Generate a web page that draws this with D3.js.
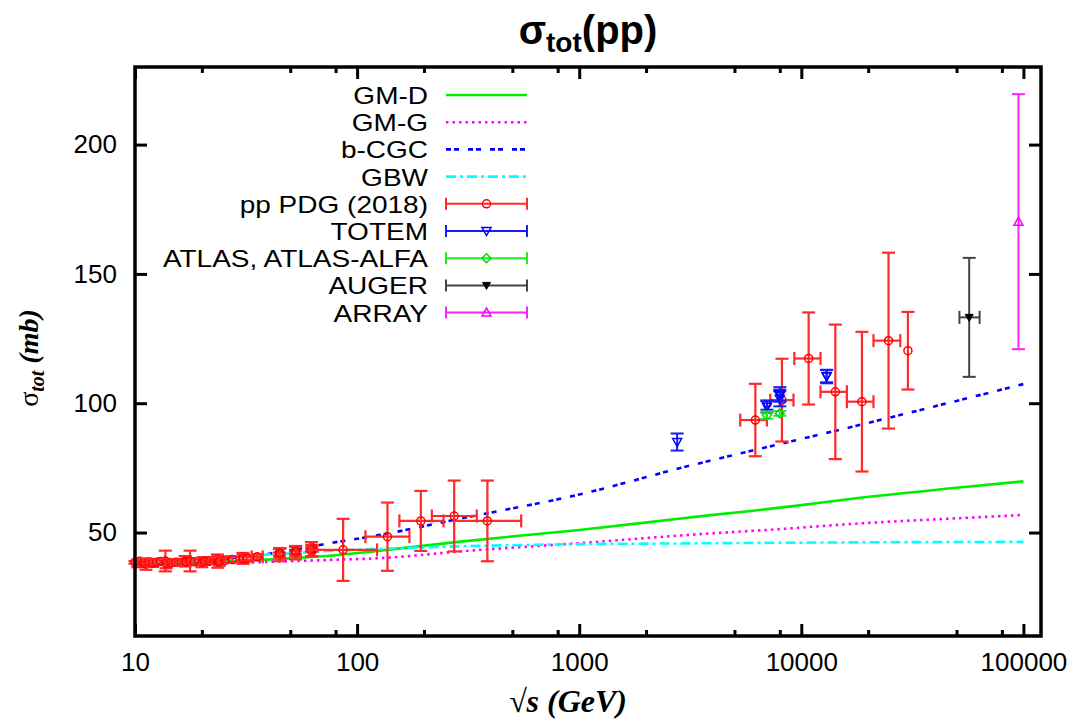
<!DOCTYPE html>
<html><head><meta charset="utf-8">
<script src="https://cdn.jsdelivr.net/npm/d3@7"></script>
<style>body{margin:0;background:#fff}svg{display:block}</style>
</head><body>
<svg id="c" width="1080" height="722"></svg>
<script>
// ---------- data ----------
const xTickMajor = [10, 100, 1000, 10000, 100000];
const yTicks = [50, 100, 150, 200];

// model curves (sqrt(s) in GeV, sigma in mb)
const gmdS   = [10, 20, 30, 50, 75, 127, 300, 1000, 3000, 10000, 16600, 50000, 100000];
const gmdV   = [38.3, 38.5, 39.0, 40.0, 41.0, 43.0, 46.6, 51.0, 55.6, 60.6, 63.0, 67.3, 69.8];
const gmgS   = [10, 20, 27, 75, 127, 300, 1000, 3000, 10000, 16600, 50000, 100000];
const gmgV   = [37.5, 37.8, 38.2, 39.4, 40.1, 42.8, 45.9, 49.0, 51.9, 53.3, 55.5, 56.8];
const bcgcS  = [20, 42, 75.5, 127, 300, 1000, 3000, 10000, 16600, 50000, 100000];
const bcgcV  = [39.0, 42.0, 45.9, 49.1, 55.6, 64.7, 75.4, 86.2, 90.7, 100.9, 107.4];
const gbwS   = [10, 20, 30, 50, 75, 127, 300, 1000, 3000, 10000, 100000];
const gbwV   = [38.0, 39.5, 40.8, 42.0, 42.9, 43.7, 44.7, 45.5, 45.8, 46.1, 46.4];

// pp PDG (2018)
const pdgS    = [10.0, 10.3, 10.5, 10.9, 11.2, 11.5, 12.0, 12.5, 13.0, 13.7, 13.8, 14.5, 15.3, 16.2, 16.8, 17.0, 17.7, 18.5, 19.4, 20.0, 20.5, 21.7, 22.8, 23.5, 23.5, 23.5, 23.6, 24.0, 25.5, 27.4, 30.6, 30.6, 30.7, 32.0, 35.5,
                 44.7, 44.7, 44.7, 45.0, 52.8, 52.8, 52.8, 53.0, 62.5, 62.5, 62.5, 62.7, 62.3,
                 86.5, 137, 193.6, 273.6, 386, 6210, 8180, 10790, 14230, 18750, 24700, 30200];
const pdgV    = [38.5, 38.1, 38.9, 38.3, 37.8, 38.6, 38.2, 38.5, 38.8, 39.0, 38.0, 38.2, 38.5, 38.4, 38.9, 38.6, 39.0, 38.7, 38.9, 38.4, 39.0, 38.9, 39.2, 38.9, 39.6, 39.9, 38.6, 38.7, 39.3, 39.6, 40.1, 40.6, 39.8, 40.0, 40.6,
                 41.7, 42.3, 41.3, 42.0, 42.4, 43.0, 42.1, 42.8, 43.2, 43.9, 42.6, 44.2, 43.5,
                 43.3, 48.4, 54.5, 56.4, 54.5, 93.5, 101.2, 117.3, 104.4, 100.6, 124.2, 120.3];
const pdgErr  = [0.5, 1.5, 0.8, 1.2, 2.2, 0.6, 1.5, 1.0, 0.7, 4.0, 1.8, 1.0, 0.8, 1.0, 2.0, 0.6, 4.0, 1.0, 0.8, 1.8, 1.5, 0.5, 0.9, 0.7, 0.4, 1.6, 2.2, 1.5, 0.8, 1.2, 0.6, 1.5, 1.9, 0.8, 1.0,
                 0.6, 1.5, 2.4, 2.0, 0.6, 1.5, 2.5, 2.0, 0.6, 1.2, 1.7, 1.0, 2.8,
                 12.0, 13.2, 11.6, 13.7, 15.6, 14.0, 16.0, 17.8, 26.0, 27.0, 34.0, 15.0];
const pdgSLo  = [null, null, null, null, null, null, null, null, null, null, null, null, null, null, null, null, null, null, null, null, null, null, null, null, null, null, null, null, null, null, null, null, null, null, 33.5,
                 null, null, null, null, null, null, null, null, null, null, null, null, null,
                 61, 109, 155, 217, 273, 5310, 7250, 9300, 12200, 16040, 21130, 30200];
const pdgSHi  = [null, null, null, null, null, null, null, null, null, null, null, null, null, null, null, null, null, null, null, null, null, null, null, null, null, null, null, null, null, null, null, null, null, null, 37.6,
                 null, null, null, null, null, null, null, null, null, null, null, null, null,
                 123, 172, 245, 346, 548, 7000, 9220, 12200, 16040, 21130, 27900, 30200];

// TOTEM
const totemS   = [2760, 7000, 7000, 8000, 8000, 8000, 13000, 13000];
const totemV   = [85.0, 99.3, 98.6, 101.7, 102.9, 103.5, 110.5, 110.3];
const totemErr = [3.3, 1.8, 2.2, 2.9, 2.3, 2.7, 2.4, 2.6];
// ATLAS, ATLAS-ALFA
const atlasS   = [7000, 8000];
const atlasV   = [95.35, 96.07];
const atlasErr = [1.36, 0.92];
// AUGER
const augerS   = [57000];
const augerV   = [133.2];
const augerErr = [23.0];
const augerSLo = [51500];
const augerSHi = [63500];
// ARRAY
const arrayS   = [95000];
const arrayV   = [170.2];
const arrayErr = [49.3];

const legendLabels = ["GM-D", "GM-G", "b-CGC", "GBW", "pp PDG (2018)", "TOTEM", "ATLAS, ATLAS-ALFA", "AUGER", "ARRAY"];

// ---------- drawing ----------
const svg = d3.select("#c");
const L = 135, R = 1041, T = 67, B = 636;
const x = d3.scaleLog().domain([10, 1.2e5]).range([L, R]);
const y = d3.scaleLinear().domain([10, 230]).range([B, T]);

const minorX = [];
xTickMajor.forEach(d => [2, 5, 8].forEach(m => { if (d * m <= 1.2e5) minorX.push(d * m); }));

svg.append("clipPath").attr("id", "pc").append("rect")
  .attr("x", L).attr("y", T).attr("width", R - L).attr("height", B - T);

// curves
const curves = [
  {s: gmdS, v: gmdV, color: "#00ee00", dash: null, w: 2.6},
  {s: gmgS, v: gmgV, color: "#ff00ff", dash: "2.5,4", w: 2.6},
  {s: bcgcS, v: bcgcV, color: "#0000ff", dash: "5,3,5,9", w: 2.6},
  {s: gbwS, v: gbwV, color: "#00ffff", dash: "10,4,3,4", w: 2.6}
];
const line = d3.line().x(d => x(d[0])).y(d => y(d[1])).curve(d3.curveMonotoneX);
const gCurves = svg.append("g").attr("clip-path", "url(#pc)");
curves.forEach(c => {
  gCurves.append("path").attr("d", line(c.s.map((s, i) => [s, c.v[i]])))
    .attr("fill", "none").attr("stroke", c.color).attr("stroke-width", c.w)
    .attr("stroke-dasharray", c.dash);
});

// markers
function marker(g, type, cx, cy, color) {
  if (type === "circle") {
    g.append("circle").attr("cx", cx).attr("cy", cy).attr("r", 4).attr("fill", "none").attr("stroke", color).attr("stroke-width", 1.5);
  } else if (type === "tdown") {
    g.append("path").attr("d", `M${cx-4.5},${cy-3.5}L${cx+4.5},${cy-3.5}L${cx},${cy+4.5}Z`).attr("fill", "none").attr("stroke", color).attr("stroke-width", 1.5);
  } else if (type === "tdownf") {
    g.append("path").attr("d", `M${cx-4},${cy-3}L${cx+4},${cy-3}L${cx},${cy+4}Z`).attr("fill", color).attr("stroke", color).attr("stroke-width", 1);
  } else if (type === "tup") {
    g.append("path").attr("d", `M${cx-4.5},${cy+3.5}L${cx+4.5},${cy+3.5}L${cx},${cy-4.5}Z`).attr("fill", "none").attr("stroke", color).attr("stroke-width", 1.5);
  } else if (type === "diamond") {
    g.append("path").attr("d", `M${cx},${cy-4.5}L${cx+4.5},${cy}L${cx},${cy+4.5}L${cx-4.5},${cy}Z`).attr("fill", "none").attr("stroke", color).attr("stroke-width", 1.5);
  }
}
const cap = 6.5;
function errPoint(g, px, py, yTop, yBot, xL, xR, color, barColor, type, bw) {
  const ln = (x1, y1, x2, y2) => g.append("line").attr("x1", x1).attr("y1", y1).attr("x2", x2).attr("y2", y2)
    .attr("stroke", barColor).attr("stroke-width", bw || 2);
  ln(px, yTop, px, yBot);
  ln(px - cap, yTop, px + cap, yTop);
  ln(px - cap, yBot, px + cap, yBot);
  if (xL != null && xR != null && xR - xL > 1) {
    ln(xL, py, xR, py);
    ln(xL, py - cap, xL, py + cap);
    ln(xR, py - cap, xR, py + cap);
  }
  marker(g, type, px, py, color);
}
const gData = svg.append("g");
pdgS.forEach((s, i) => errPoint(gData, x(s), y(pdgV[i]), y(pdgV[i] + pdgErr[i]), y(pdgV[i] - pdgErr[i]),
  pdgSLo[i] != null ? x(pdgSLo[i]) : null, pdgSHi[i] != null ? x(pdgSHi[i]) : null, "#ff0000", "#ff2a2a", "circle", 2.2));
totemS.forEach((s, i) => errPoint(gData, x(s), y(totemV[i]), y(totemV[i] + totemErr[i]), y(totemV[i] - totemErr[i]), null, null, "#0000ff", "#1a1aff", "tdown"));
atlasS.forEach((s, i) => errPoint(gData, x(s), y(atlasV[i]), y(atlasV[i] + atlasErr[i]), y(atlasV[i] - atlasErr[i]), null, null, "#00dd00", "#22ee22", "diamond"));
augerS.forEach((s, i) => errPoint(gData, x(s), y(augerV[i]), y(augerV[i] + augerErr[i]), y(augerV[i] - augerErr[i]), x(augerSLo[i]), x(augerSHi[i]), "#000000", "#444444", "tdownf"));
arrayS.forEach((s, i) => errPoint(gData, x(s), y(arrayV[i]), y(arrayV[i] + arrayErr[i]), y(arrayV[i] - arrayErr[i]), null, null, "#ff00ff", "#ff22ff", "tup"));

// axes (ticks inward, mirrored)
const fontSans = "'Liberation Sans', Arial, sans-serif";
function styleAxis(g, showText) {
  g.select(".domain").remove();
  g.selectAll(".tick line").attr("stroke", "#000").attr("stroke-width", 3);
  g.selectAll(".tick text").attr("font-family", fontSans).attr("font-size", 26).attr("fill", "#000");
  if (!showText) g.selectAll(".tick text").remove();
}
const fmt = d3.format("d");
let g;
g = svg.append("g").attr("transform", `translate(0,${B})`).call(d3.axisBottom(x).tickValues(xTickMajor).tickFormat(fmt).tickSize(-12).tickPadding(17));
styleAxis(g, true);
g.selectAll(".tick text").attr("dy", "0.71em");
g = svg.append("g").attr("transform", `translate(0,${B})`).call(d3.axisBottom(x).tickValues(minorX).tickFormat("").tickSize(-6));
styleAxis(g, false);
g = svg.append("g").attr("transform", `translate(0,${T})`).call(d3.axisTop(x).tickValues(xTickMajor).tickFormat("").tickSize(-12));
styleAxis(g, false);
g = svg.append("g").attr("transform", `translate(0,${T})`).call(d3.axisTop(x).tickValues(minorX).tickFormat("").tickSize(-6));
styleAxis(g, false);
g = svg.append("g").attr("transform", `translate(${L},0)`).call(d3.axisLeft(y).tickValues(yTicks).tickFormat(fmt).tickSize(-12).tickPadding(18));
styleAxis(g, true);
g = svg.append("g").attr("transform", `translate(${R},0)`).call(d3.axisRight(y).tickValues(yTicks).tickFormat("").tickSize(-12));
styleAxis(g, false);

// frame
svg.append("rect").attr("x", L).attr("y", T).attr("width", R - L).attr("height", B - T)
  .attr("fill", "none").attr("stroke", "#000").attr("stroke-width", 3.5);

// legend
const lx0 = 446, lx1 = 527, ltx = 428, ly0 = 95, ldy = 27.2;
const legendStyles = [
  {kind: "line", color: "#00ee00", dash: null},
  {kind: "line", color: "#ff00ff", dash: "2.5,4"},
  {kind: "line", color: "#0000ff", dash: "5,3,5,9"},
  {kind: "line", color: "#00ffff", dash: "10,4,3,4"},
  {kind: "err", color: "#ff0000", bar: "#ff2a2a", m: "circle"},
  {kind: "err", color: "#0000ff", bar: "#1a1aff", m: "tdown"},
  {kind: "err", color: "#00dd00", bar: "#22ee22", m: "diamond"},
  {kind: "err", color: "#000000", bar: "#444444", m: "tdownf"},
  {kind: "err", color: "#ff00ff", bar: "#ff22ff", m: "tup"}
];
const gLeg = svg.append("g");
legendLabels.forEach((lab, i) => {
  const yy = ly0 + i * ldy;
  const tx = gLeg.append("text").attr("x", ltx).attr("y", yy + 9).attr("text-anchor", "end")
    .attr("font-family", fontSans).attr("font-size", 28).attr("fill", "#000").text(lab);
  // keep the wide glyph look but a line height that fits the row spacing
  const w28 = tx.node().getComputedTextLength();
  tx.attr("font-size", 24).attr("textLength", w28).attr("lengthAdjust", "spacingAndGlyphs");
  const st = legendStyles[i];
  if (st.kind === "line") {
    gLeg.append("line").attr("x1", lx0).attr("x2", lx1).attr("y1", yy).attr("y2", yy)
      .attr("stroke", st.color).attr("stroke-width", 2.6).attr("stroke-dasharray", st.dash);
  } else {
    const ln = (a, b, c, d) => gLeg.append("line").attr("x1", a).attr("y1", b).attr("x2", c).attr("y2", d).attr("stroke", st.bar).attr("stroke-width", 2);
    ln(lx0, yy, lx1, yy); ln(lx0, yy - 6, lx0, yy + 6); ln(lx1, yy - 6, lx1, yy + 6);
    marker(gLeg, st.m, (lx0 + lx1) / 2, yy, st.color);
  }
});

// title
const t = svg.append("text").attr("x", 588).attr("y", 44).attr("text-anchor", "middle")
  .attr("font-family", fontSans).attr("font-weight", "bold").attr("font-size", 40).attr("fill", "#000");
t.append("tspan").text("σ");
t.append("tspan").attr("font-size", 28).attr("dy", 8).text("tot");
t.append("tspan").attr("dy", -8).text("(pp)");

// axis titles
const fontSerif = "'Liberation Serif', 'Times New Roman', serif";
svg.append("text").attr("x", 568).attr("y", 712).attr("text-anchor", "middle")
  .attr("font-family", fontSerif).attr("font-weight", "bold").attr("font-style", "italic").attr("font-size", 32).attr("fill", "#000")
  .text("√s (GeV)");
const yl = svg.append("text").attr("transform", "translate(38,358) rotate(-90)").attr("text-anchor", "middle")
  .attr("font-family", fontSerif).attr("font-weight", "bold").attr("font-style", "italic").attr("font-size", 28).attr("fill", "#000");
yl.append("tspan").attr("font-style", "normal").attr("font-weight", "normal").text("σ");
yl.append("tspan").attr("font-size", 20).attr("dy", 6).text("tot");
yl.append("tspan").attr("dy", -6).text(" (mb)");
</script>
</body></html>
